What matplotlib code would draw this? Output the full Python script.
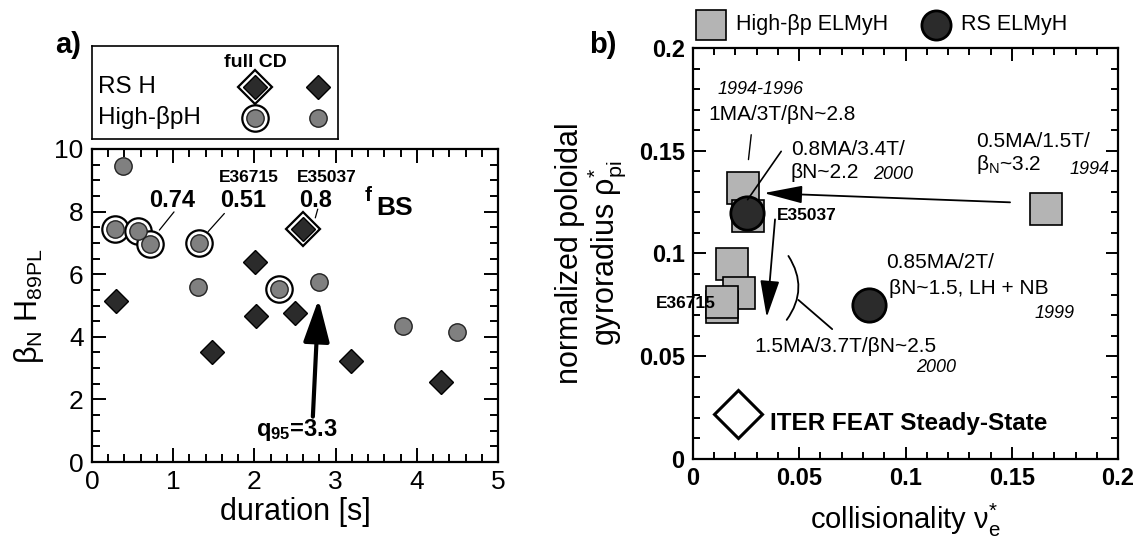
import matplotlib
matplotlib.use('Agg')
import matplotlib.pyplot as plt
from matplotlib.ticker import MultipleLocator, FuncFormatter

plt.rcParams['font.family'] = ['Liberation Sans', 'DejaVu Sans']
plt.rcParams['mathtext.fontset'] = 'custom'
plt.rcParams['mathtext.rm'] = 'Liberation Sans'
plt.rcParams['mathtext.bf'] = 'Liberation Sans:bold'
plt.rcParams['mathtext.it'] = 'Liberation Sans:italic'

# ---- panel a) : duration vs beta_N*H89 ----
hbp_dur = [0.38, 1.31, 2.79, 3.83, 4.50]
hbp_bh = [9.47, 5.58, 5.74, 4.33, 4.14]
# high-beta_p points with full CD (ringed)
hbp_cd_dur = [0.28, 0.57, 0.72, 1.32, 2.30]
hbp_cd_bh = [7.44, 7.39, 6.97, 6.99, 5.53]
rs_dur = [0.30, 1.48, 2.01, 2.02, 2.50, 3.19, 4.30]
rs_bh = [5.13, 3.51, 6.40, 4.65, 4.77, 3.22, 2.56]
rs_cd_dur = [2.60]
rs_cd_bh = [7.45]

# ---- panel b) : collisionality vs rho* ----
hbp_nu = [0.0236, 0.026, 0.166, 0.0185, 0.0215, 0.0136, 0.0136]
hbp_rho = [0.132, 0.1184, 0.1215, 0.0947, 0.0806, 0.0740, 0.0764]
rs_nu = [0.0253, 0.0829]
rs_rho = [0.1196, 0.0750]
iter_nu = [0.0212]
iter_rho = [0.0218]

dark = '#2b2b2b'
grey = '#808080'
lgrey = '#b4b4b4'

fig = plt.figure(figsize=(11.45, 5.47), dpi=100)

# ================= panel a =================
ax = fig.add_axes([92/1145, 85/547, 406/1145, 313/547])
ax.plot(hbp_cd_dur, hbp_cd_bh, 'o', ms=19, mfc='white', mec='black', mew=1.6, ls='none')
ax.plot(hbp_cd_dur, hbp_cd_bh, 'o', ms=12.5, mfc=grey, mec='#222222', mew=1.0, ls='none')
ax.plot(hbp_dur, hbp_bh, 'o', ms=12.5, mfc=grey, mec='#222222', mew=1.0, ls='none')
ax.plot(rs_dur, rs_bh, 'D', ms=12, mfc=dark, mec='black', mew=1.0, ls='none')
ax.plot(rs_cd_dur, rs_cd_bh, 'D', ms=17.8, mfc='white', mec='black', mew=1.6, ls='none')
ax.plot(rs_cd_dur, rs_cd_bh, 'D', ms=12, mfc=dark, mec='black', mew=1.0, ls='none')

ax.set_xlim(0, 5)
ax.set_ylim(0, 10)
ax.xaxis.set_major_locator(MultipleLocator(1))
ax.xaxis.set_minor_locator(MultipleLocator(0.2))
ax.yaxis.set_major_locator(MultipleLocator(2))
ax.yaxis.set_minor_locator(MultipleLocator(0.5))
ax.tick_params(which='both', direction='in', top=True, right=True, width=1.4)
ax.tick_params(which='major', length=10, labelsize=19, pad=6)
ax.tick_params(which='minor', length=6)
for s in ax.spines.values():
    s.set_linewidth(1.6)
ax.set_xlabel('duration [s]', fontsize=22, labelpad=2)
ax.set_ylabel('β$_\\mathregular{N}$ H$_\\mathregular{89PL}$', fontsize=22, labelpad=6)

# f_BS labels
ax.text(0.99, 8.36, '0.74', fontsize=17, fontweight='bold', ha='center', va='center')
ax.text(1.86, 8.36, '0.51', fontsize=17, fontweight='bold', ha='center', va='center')
ax.text(2.75, 8.36, '0.8', fontsize=17, fontweight='bold', ha='center', va='center')
ax.text(1.93, 9.10, 'E36715', fontsize=12.5, fontweight='bold', ha='center', va='center')
ax.text(2.89, 9.10, 'E35037', fontsize=12.5, fontweight='bold', ha='center', va='center')
ax.text(3.40, 8.50, 'f', fontsize=15, fontweight='bold', ha='center', va='center')
ax.text(3.72, 8.12, 'BS', fontsize=19, fontweight='bold', ha='center', va='center')
for a, b in [((1.01, 7.99), (0.83, 7.41)), ((1.63, 7.94), (1.43, 7.36)), ((2.78, 8.08), (2.75, 7.80))]:
    ax.annotate('', xy=b, xytext=a, arrowprops=dict(arrowstyle='-', lw=0.9, color='k',
                                                    shrinkA=0, shrinkB=0))
ax.annotate('', xy=(2.79, 5.20), xytext=(2.72, 1.45),
            arrowprops=dict(arrowstyle='-|>,head_length=26,head_width=8', mutation_scale=1,
                            lw=3, color='k', shrinkA=0, shrinkB=0))
ax.text(2.52, 1.02, 'q$_\\mathbf{95}$=3.3', fontsize=17, fontweight='bold', ha='center', va='center')

fig.text(68/1145, 1 - 45/547, 'a)', fontsize=21, fontweight='bold', ha='center', va='center')

# legend box of panel a
lax = fig.add_axes([92/1145, 408/547, 246/1145, 93/547])
lax.set_xlim(0, 1)
lax.set_ylim(0, 1)
lax.set_xticks([])
lax.set_yticks([])
for s in lax.spines.values():
    s.set_linewidth(1.2)
lax.text(0.663, 0.82, 'full CD', fontsize=14, fontweight='bold', ha='center', va='center')
lax.text(0.025, 0.56, 'RS H', fontsize=17.5, ha='left', va='center')
lax.text(0.025, 0.23, 'High-βpH', fontsize=17.5, ha='left', va='center')
lax.plot([0.663], [0.56], 'D', ms=17.8, mfc='white', mec='black', mew=1.6)
lax.plot([0.663], [0.56], 'D', ms=12, mfc=dark, mec='black', mew=1.0)
lax.plot([0.663], [0.23], 'o', ms=19, mfc='white', mec='black', mew=1.6)
lax.plot([0.663], [0.23], 'o', ms=12.5, mfc=grey, mec='#222222', mew=1.0)
lax.plot([0.92], [0.56], 'D', ms=12, mfc=dark, mec='black', mew=1.0)
lax.plot([0.92], [0.23], 'o', ms=12.5, mfc=grey, mec='#222222', mew=1.0)

# ================= panel b =================
bx = fig.add_axes([693/1145, 88/547, 425/1145, 411/547])
bx.plot(hbp_nu, hbp_rho, 's', ms=23.5, mfc=lgrey, mec='black', mew=1.2, ls='none', zorder=3)
bx.plot(rs_nu, rs_rho, 'o', ms=24, mfc=dark, mec='black', mew=2, ls='none', zorder=4)
bx.plot(iter_nu, iter_rho, 'D', ms=24, mfc='white', mec='black', mew=2.2, ls='none', zorder=4)

bx.set_xlim(0, 0.2)
bx.set_ylim(0, 0.2)
fmt = FuncFormatter(lambda v, p: '%g' % round(v, 3))
for axis in (bx.xaxis, bx.yaxis):
    axis.set_major_locator(MultipleLocator(0.05))
    axis.set_minor_locator(MultipleLocator(0.01))
    axis.set_major_formatter(fmt)
bx.tick_params(which='both', direction='in', top=True, right=True, width=1.4)
bx.tick_params(which='major', length=9, labelsize=17, pad=6)
bx.tick_params(which='minor', length=5)
for lab in bx.get_xticklabels() + bx.get_yticklabels():
    lab.set_fontweight('bold')
for s in bx.spines.values():
    s.set_linewidth(1.6)
bx.set_xlabel('collisionality ν$_\\mathregular{e}^\\mathregular{*}$', fontsize=21, labelpad=8)
bx.set_ylabel('normalized poloidal\ngyroradius ρ$_\\mathregular{pi}^\\mathregular{*}$', fontsize=22,
              labelpad=8, linespacing=1.0)

fig.text(603/1145, 1 - 45/547, 'b)', fontsize=21, fontweight='bold', ha='center', va='center')

# legend above panel b
bx.plot([0.042], [1.056], 's', ms=21, mfc=lgrey, mec='black', mew=1.2, transform=bx.transAxes, clip_on=False)
bx.text(0.101, 1.056, 'High-βp ELMyH', fontsize=15.5, ha='left', va='center', transform=bx.transAxes)
bx.plot([0.572], [1.056], 'o', ms=21, mfc=dark, mec='black', mew=2, transform=bx.transAxes, clip_on=False)
bx.text(0.631, 1.056, 'RS ELMyH', fontsize=15.5, ha='left', va='center', transform=bx.transAxes)

# annotations
bx.text(0.0316, 0.1797, '1994-1996', fontsize=13, style='italic', ha='center', va='center')
bx.text(0.0418, 0.1676, '1MA/3T/βN~2.8', fontsize=15, ha='center', va='center')
bx.annotate('', xy=(0.0261, 0.1457), xytext=(0.0274, 0.1578),
            arrowprops=dict(arrowstyle='-', lw=1.0, color='k', shrinkA=0, shrinkB=0))
bx.text(0.046, 0.1505, '0.8MA/3.4T/', fontsize=15, ha='left', va='center')
bx.text(0.046, 0.1392, 'βN~2.2', fontsize=15, ha='left', va='center')
bx.text(0.0849, 0.1384, '2000', fontsize=13, style='italic', ha='left', va='center')
bx.annotate('', xy=(0.0257, 0.1262), xytext=(0.0415, 0.1497),
            arrowprops=dict(arrowstyle='-', lw=1.2, color='k', shrinkA=0, shrinkB=0), zorder=5)
bx.text(0.1332, 0.1546, '0.5MA/1.5T/', fontsize=15, ha='left', va='center')
bx.text(0.1332, 0.1432, 'β$_\\mathregular{N}$~3.2', fontsize=15, ha='left', va='center')
bx.text(0.1772, 0.1408, '1994', fontsize=13, style='italic', ha='left', va='center')
bx.annotate('', xy=(0.0333, 0.1294), xytext=(0.1492, 0.1249),
            arrowprops=dict(arrowstyle='-|>,head_length=24,head_width=5.5', mutation_scale=1,
                            lw=1.3, color='k', shrinkA=0, shrinkB=0))
bx.text(0.0396, 0.1184, 'E35037', fontsize=12.5, fontweight='bold', ha='left', va='center')
bx.annotate('', xy=(0.0347, 0.0690), xytext=(0.0386, 0.1166),
            arrowprops=dict(arrowstyle='-|>,head_length=23,head_width=6', mutation_scale=1,
                            lw=1.3, color='k', shrinkA=0, shrinkB=0))
bx.annotate('', xy=(0.0441, 0.0677), xytext=(0.0449, 0.0988),
            arrowprops=dict(arrowstyle='-', lw=1.3, color='k', shrinkA=0, shrinkB=0,
                            connectionstyle='arc3,rad=-0.34'))
bx.annotate('', xy=(0.0655, 0.0632), xytext=(0.0496, 0.0774),
            arrowprops=dict(arrowstyle='-', lw=1.3, color='k', shrinkA=0, shrinkB=0))
bx.text(0.0291, 0.0548, '1.5MA/3.7T/βN~2.5', fontsize=15, ha='left', va='center')
bx.text(0.1142, 0.0444, '2000', fontsize=13, style='italic', ha='center', va='center')
bx.text(0.0909, 0.0954, '0.85MA/2T/', fontsize=15, ha='left', va='center')
bx.text(0.0922, 0.0831, 'βN~1.5, LH + NB', fontsize=15, ha='left', va='center')
bx.text(0.170, 0.0710, '1999', fontsize=13, style='italic', ha='center', va='center')
bx.text(0.0108, 0.0758, 'E36715', fontsize=12.5, fontweight='bold', ha='right', va='center', zorder=6)
bx.text(0.0364, 0.0174, 'ITER FEAT Steady-State', fontsize=17.5, fontweight='bold', ha='left', va='center')

fig.savefig('out.png', dpi=100)
